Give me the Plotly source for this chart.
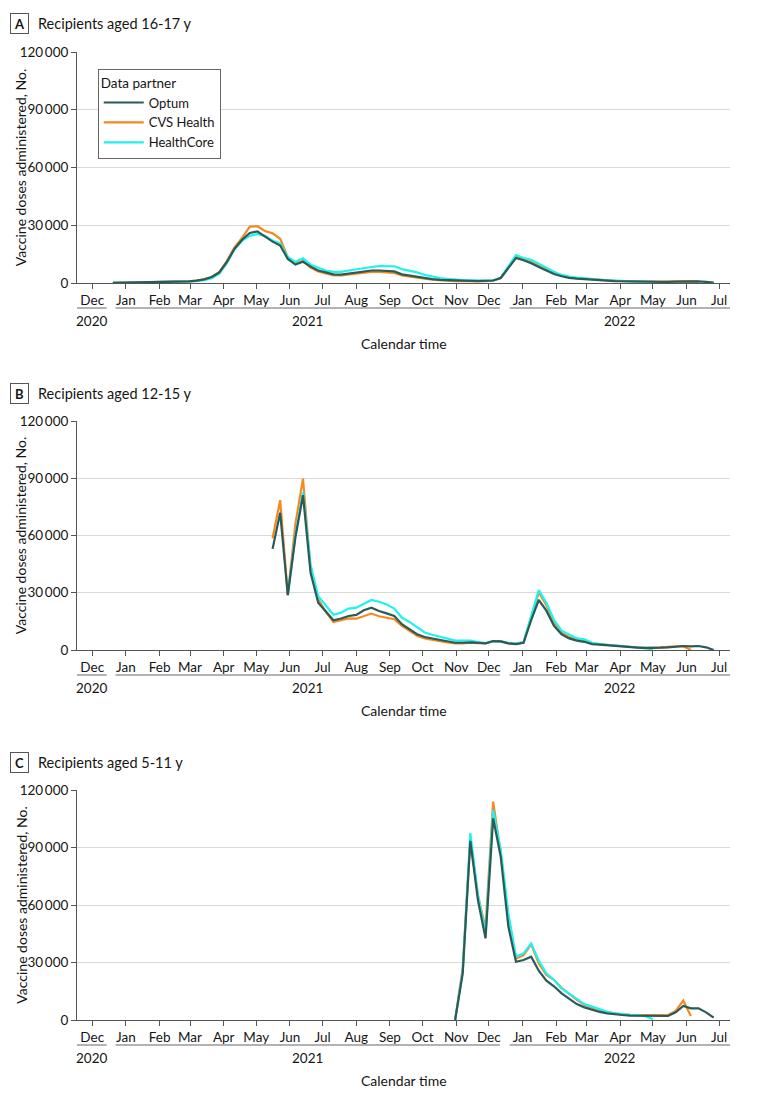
import plotly.graph_objects as go
import pandas as pd

# ---------------- data ----------------
week_start = "2020-12-20"
n_weeks = 80
weeks = pd.date_range(week_start, periods=n_weeks, freq="7D")

series_names = ["Optum", "CVS Health", "HealthCore"]

# Panel A: recipients aged 16-17 y (start week index 0)
a_optum = [100, 150, 200, 250, 300, 350, 400, 450, 500, 550,
           800, 1200, 1900, 3100, 5500, 11000, 17800, 22500, 26000, 26800,
           24000, 21500, 19500, 12500, 9600, 11000, 8500, 6500, 5500, 4500,
           4400, 5000, 5500, 6200, 6500, 6500, 6300, 6000, 4500, 3800,
           3300, 2500, 2000, 1600, 1400, 1200, 1100, 1100, 1000, 1000,
           1300, 2600, 8000, 13000, 11800, 10300, 8300, 6500, 4700, 3500,
           2700, 2300, 2000, 1700, 1400, 1200, 1000, 900, 800, 700,
           600, 600, 600, 600, 700, 800, 900, 800, 600, 200]
a_cvs = [100, 150, 200, 250, 300, 350, 400, 450, 500, 550,
         800, 1200, 1900, 3100, 5800, 11500, 18500, 23500, 29300, 29500,
         27000, 25800, 23000, 13500, 10500, 11500, 8000, 6000, 5000, 4000,
         4000, 4500, 5000, 5500, 5800, 5800, 5600, 5200, 4000, 3300,
         2800, 2200, 1800, 1400, 1200, 1000, 900, 900, 900, 900,
         1200, 2600, 8300, 13700, 12500, 11000, 9000, 7000, 5200, 3900,
         3000, 2500, 2200, 1800, 1500, 1200, 1000, 900, 800, 700,
         600, 600, 600, 700, 800, 900, 1000, 700]
a_healthcore = [100, 150, 200, 250, 300, 350, 400, 450, 500, 550,
                700, 1000, 1500, 2500, 4800, 10500, 17500, 22000, 24500, 25500,
                24500, 22000, 20500, 13500, 11000, 12800, 9500, 8000, 6500, 5800,
                5800, 6500, 7200, 7800, 8300, 8800, 8800, 8700, 7200, 6300,
                5500, 4200, 3300, 2600, 2200, 1800, 1500, 1400, 1300, 1200,
                1300, 2700, 8500, 14500, 13000, 12000, 10000, 7800, 5800, 4200,
                3300, 2800, 2400, 2000, 1700, 1400, 1200, 1000, 900, 800,
                700, 500]
a_starts = [0, 0, 0]

# Panel B: recipients aged 12-15 y
b_optum = [53000, 71900, 28800, 59000, 81100, 40400, 24800, 20100, 15600,
           16500, 17800, 18400, 20800, 22200, 20400, 19200, 17800, 13500, 10900,
           8300, 6800, 6000, 5200, 4600, 3800, 3800, 4000, 3800, 3500,
           4700, 4500, 3500, 3100, 3800, 15700, 26200, 20600, 12600, 8200,
           6100, 4900, 4300, 3100, 2800, 2400, 2100, 1700, 1400, 1200,
           1000, 1000, 1200, 1400, 1700, 2100, 1900, 2100, 1400, 0]
b_cvs = [58600, 78500, 28800, 66000, 89800, 42000, 26500, 20000, 14700,
         15600, 16600, 16400, 17800, 19100, 17700, 17000, 16100, 12600, 10000,
         7500, 6000, 5200, 4600, 4000, 3500, 3500, 3800, 3600, 3400,
         4600, 4500, 3500, 3200, 4000, 17500, 30200, 23500, 14000, 9000,
         6800, 5400, 4700, 3400, 3000, 2600, 2200, 1800, 1500, 1300,
         1200, 1200, 1400, 1600, 1800, 2000, 0]
b_healthcore = [28800, 60000, 82800, 44700, 28200, 23600, 18500,
                19600, 21700, 22200, 24300, 26200, 25300, 23900, 21700, 17000, 14700,
                11800, 9200, 8000, 7000, 6100, 4900, 4900, 4900, 4200, 3600,
                4500, 4500, 3800, 3400, 4200, 18000, 31400, 24700, 15700, 10100,
                8200, 6100, 5600, 3800, 3100, 2700, 2400, 2000, 1600, 1300,
                1200, 0]
b_starts = [21, 21, 23]

# Panel C: recipients aged 5-11 y
c_optum = [0, 24300, 93500, 62600, 42600, 105200, 85200, 48700, 30400, 31300,
           33000, 25700, 20500, 17600, 13900, 11000, 8300, 6600, 5200, 4200,
           3500, 2900, 2600, 2300, 2300, 2100, 2100, 2100, 2100, 4000,
           7300, 6100, 6100, 4000, 1200]
c_cvs = [0, 27000, 94500, 65000, 47900, 113900, 87000, 53100, 32000, 33900,
         39500, 29500, 23500, 21000, 16800, 13500, 10500, 8000, 6300, 5000,
         4000, 3300, 2900, 2700, 2600, 2500, 2500, 2600, 2600, 4700,
         10100, 2100]
c_healthcore = [0, 25500, 97500, 65200, 45000, 109600, 88700, 55700, 33000, 34800,
                40000, 30900, 24300, 20900, 16500, 13900, 11000, 8300, 7000, 5600,
                4300, 3500, 3000, 2700, 2500, 2000, 500]
c_starts = [45, 45, 45]

panel_letters = ["A", "B", "C"]
panel_titles = ["Recipients aged 16-17 y", "Recipients aged 12-15 y", "Recipients aged 5-11 y"]

tick_months = ["2020-12-01", "2021-01-01", "2021-02-01", "2021-03-01", "2021-04-01",
               "2021-05-01", "2021-06-01", "2021-07-01", "2021-08-01", "2021-09-01",
               "2021-10-01", "2021-11-01", "2021-12-01", "2022-01-01", "2022-02-01",
               "2022-03-01", "2022-04-01", "2022-05-01", "2022-06-01", "2022-07-01"]
month_labels = ["Dec", "Jan", "Feb", "Mar", "Apr", "May", "Jun", "Jul", "Aug", "Sep",
                "Oct", "Nov", "Dec", "Jan", "Feb", "Mar", "Apr", "May", "Jun", "Jul"]
year_labels = ["2020", "2021", "2022"]
y_tickvals = [0, 30000, 60000, 90000, 120000]
y_ticktext = ["0", "30\u2009000", "60\u2009000", "90\u2009000", "120\u2009000"]

# ---------------- styling / layout ----------------
colors = {"Optum": "#2b5a58", "CVS Health": "#f5891f", "HealthCore": "#1ef2f2"}
FONT = "Lato"
TXT = "#151515"
W, H = 783, 1098
OFF = 8  # page body margin offset
# target page-pixel positions of plot area
PL, PR, PT, PB = 69, 730, 52, 1020
L, R, T, B = PL - OFF, W - (PR - OFF), PT - OFF, H - (PB - OFF)
PW, PH = W - L - R, H - T - B


def px(x):
    return (x - PL) / PW


def py(y):
    return (PB - y) / PH


panel_px = [(52, 283), (421, 650), (790, 1020)]  # (top, bottom) page pixel rows of plot areas
x_range = ["2020-11-17", "2022-07-11"]


def pad(start, vals):
    out = [None] * n_weeks
    for i, v in enumerate(vals):
        out[start + i] = v
    return out


panels = [
    ([a_optum, a_cvs, a_healthcore], a_starts),
    ([b_optum, b_cvs, b_healthcore], b_starts),
    ([c_optum, c_cvs, c_healthcore], c_starts),
]

fig = go.Figure()
draw_order = [1, 2, 0]  # CVS, HealthCore, then Optum on top
for p, (vals, starts) in enumerate(panels):
    for k in draw_order:
        name = series_names[k]
        fig.add_trace(go.Scatter(
            x=weeks, y=pad(starts[k], vals[k]), mode="lines", name=name,
            line=dict(color=colors[name], width=2.2),
            xaxis="x" if p == 0 else f"x{p+1}",
            yaxis="y" if p == 0 else f"y{p+1}",
            showlegend=(p == 0), legendrank=k + 1,
            connectgaps=False,
        ))

annotations = []
shapes = []
layout = dict(
    width=W, height=H,
    margin=dict(l=L, r=R, t=T, b=B),
    paper_bgcolor="white", plot_bgcolor="white",
    font=dict(family=FONT, size=13, color=TXT),
    legend=dict(
        x=px(90), y=py(69), xanchor="left", yanchor="top",
        title=dict(text="Data partner", font=dict(size=13.5, color=TXT)),
        bordercolor="#666", borderwidth=1, bgcolor="white",
        font=dict(size=13, color=TXT), tracegroupgap=0, itemwidth=40,
    ),
)

for p in range(3):
    top, bot = panel_px[p]
    xa = "xaxis" if p == 0 else f"xaxis{p+1}"
    ya = "yaxis" if p == 0 else f"yaxis{p+1}"
    layout[xa] = dict(
        domain=[0, 1], anchor="y" if p == 0 else f"y{p+1}",
        type="date", range=x_range,
        tickvals=tick_months, ticktext=month_labels,
        ticks="outside", ticklen=5, tickcolor="#555", tickwidth=1,
        showline=True, linecolor="#555", linewidth=1,
        showgrid=False, zeroline=False,
        tickfont=dict(size=13.5, color=TXT),
    )
    layout[ya] = dict(
        domain=[py(bot), py(top)], anchor="x" if p == 0 else f"x{p+1}",
        range=[0, 120000], tickvals=y_tickvals, ticktext=y_ticktext,
        ticks="outside", ticklen=5, tickcolor="#555", tickwidth=1,
        showline=True, linecolor="#555", linewidth=1,
        showgrid=True, gridcolor="#d9d9d9", gridwidth=1, zeroline=False,
        tickfont=dict(size=13.5, color=TXT),
    )
    # panel letter box and title
    ty = top - 28
    annotations.append(dict(
        text=f"<b>{panel_letters[p]}</b>", x=px(11), y=py(ty), xref="paper", yref="paper",
        showarrow=False, width=15, height=17, borderpad=1, bordercolor="#555", borderwidth=1,
        font=dict(size=13, color=TXT), xanchor="center", yanchor="middle",
    ))
    annotations.append(dict(
        text=panel_titles[p], x=px(28), y=py(ty), xref="paper", yref="paper",
        showarrow=False, font=dict(size=14.5, color=TXT), xanchor="left", yanchor="middle",
    ))
    # y title
    annotations.append(dict(
        text="Vaccine doses administered, No.", x=px(12), y=py((top + bot) / 2),
        xref="paper", yref="paper", showarrow=False, textangle=-90,
        font=dict(size=14, color=TXT), xanchor="center", yanchor="middle",
    ))
    # year groups
    year_spans = [(69, 99), (108, 497), (507, 730)]
    for (x0, x1) in year_spans:
        shapes.append(dict(type="line", xref="paper", yref="paper",
                           x0=px(x0), x1=px(x1), y0=py(bot + 25), y1=py(bot + 25),
                           line=dict(color="#666", width=1)))
    for xc, yl in zip([84, 302, 618], year_labels):
        annotations.append(dict(text=yl, x=px(xc), y=py(bot + 38), xref="paper", yref="paper",
                                showarrow=False, font=dict(size=13.5, color=TXT),
                                xanchor="center", yanchor="middle"))
    annotations.append(dict(text="Calendar time", x=px(400), y=py(bot + 60), xref="paper", yref="paper",
                            showarrow=False, font=dict(size=14, color=TXT), xanchor="center", yanchor="middle"))

layout["annotations"] = annotations
layout["shapes"] = shapes
fig.update_layout(**layout)
fig.write_html("out.html")
